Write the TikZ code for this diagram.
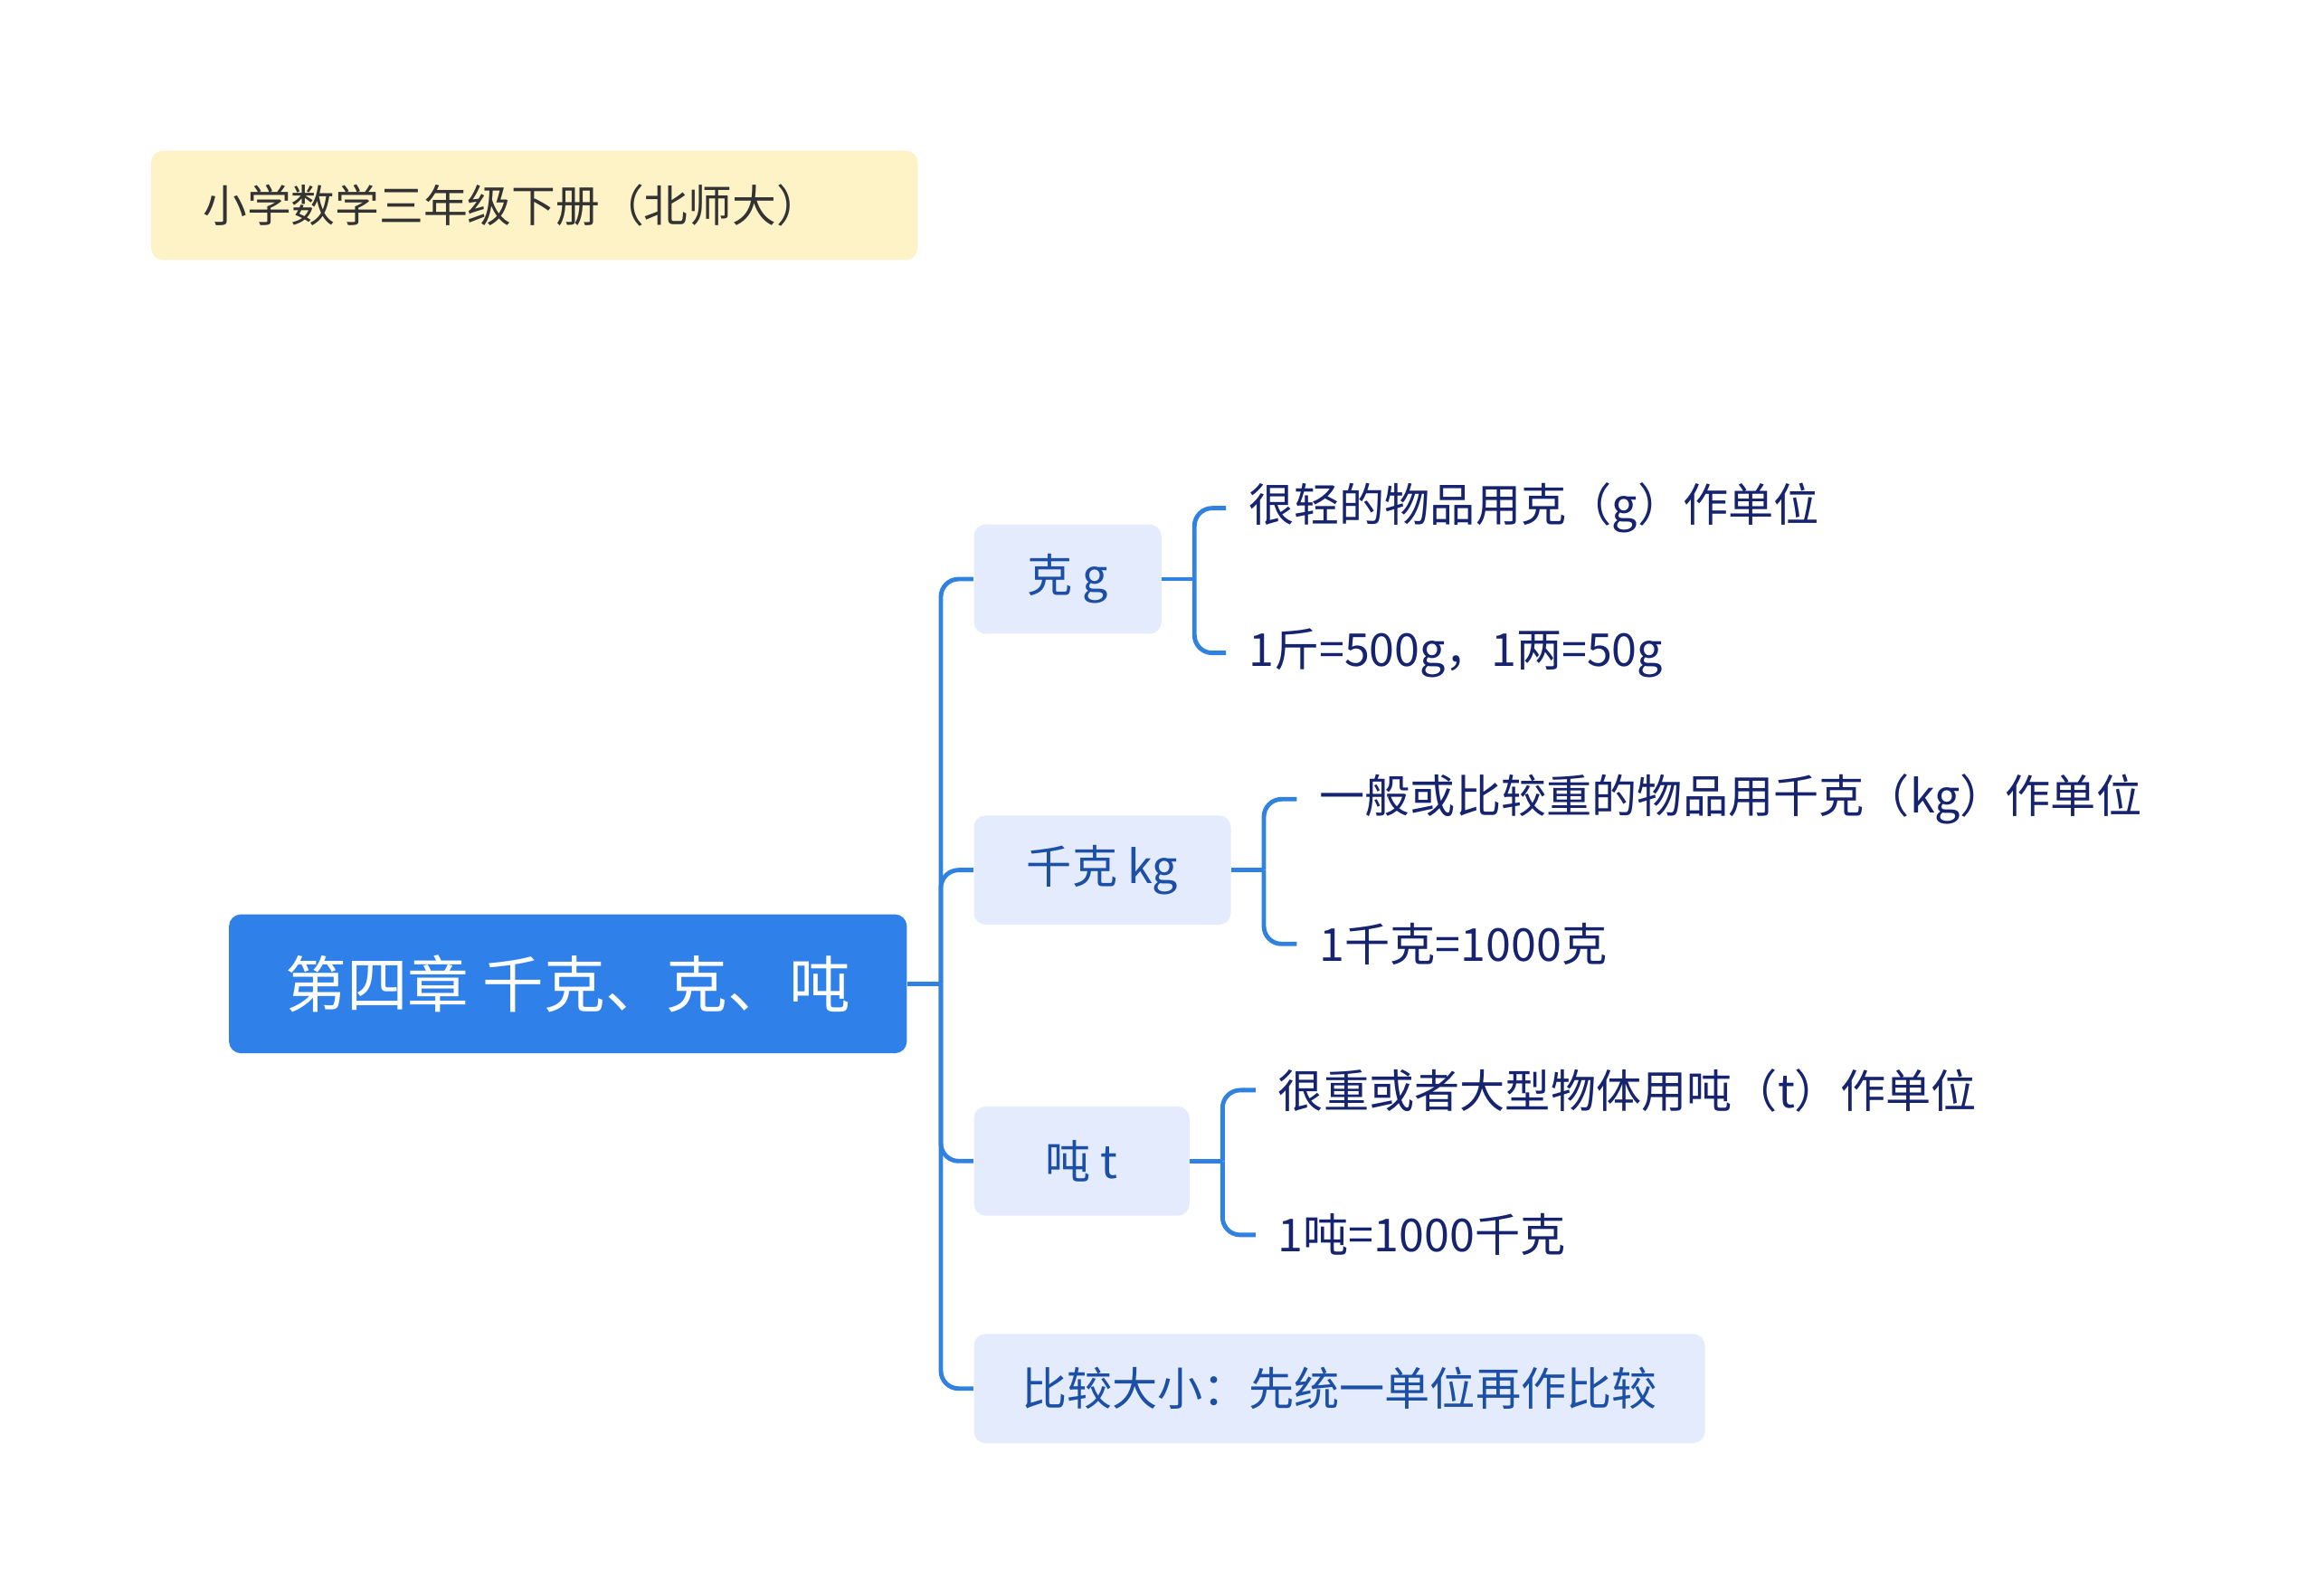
\documentclass[tikz,border=0pt]{standalone}
\usepackage{fontspec}
\setmainfont{Noto Sans CJK SC}
\usetikzlibrary{positioning}
\definecolor{mapblue}{HTML}{2F80E9}
\definecolor{mapline}{HTML}{3182E0}
\definecolor{mapsub}{HTML}{E3EBFC}
\definecolor{mapsubtext}{HTML}{1C4FA6}
\definecolor{mapleaf}{HTML}{16236E}
\definecolor{mapnote}{HTML}{FEF2C7}
\definecolor{mapgray}{HTML}{333333}
\tikzset{
  notebox/.style={fill=mapnote, text=mapgray, rounded corners=0.16cm, anchor=west,
    minimum height=1.48cm, inner xsep=0.7cm, text width=8.98cm, align=left,
    font=\fontsize{17pt}{20pt}\selectfont},
  rootbox/.style={fill=mapblue, text=white, rounded corners=0.16cm,
    minimum height=1.88cm, minimum width=9.18cm,
    font=\fontsize{23.6pt}{27pt}\selectfont},
  subbox/.style={fill=mapsub, text=mapsubtext, rounded corners=0.16cm, anchor=west,
    minimum height=1.48cm, font=\fontsize{17.5pt}{20pt}\selectfont},
  leaftext/.style={anchor=west, inner xsep=0.3cm, inner ysep=0pt, text=mapleaf,
    font=\fontsize{17.5pt}{20pt}\selectfont},
  link/.style={draw=mapline, line width=1.7pt, rounded corners=0.24cm},
}
\begin{document}
\begin{tikzpicture}[x=0.02cm, y=-0.02cm]
  \useasboundingbox (0,0) rectangle (1568,1080);
  \node[notebox] (note) at (102,139) {小学数学三年级下册（北师大）};
  \node[rootbox] (root) at (384.5,666) {第四章 千克、克、吨};

  \node[subbox, minimum width=2.54cm] (gram) at (659,392) {克 g};
  \node[subbox, minimum width=3.48cm] (kilo) at (659,589) {千克 kg};
  \node[subbox, minimum width=2.92cm] (ton) at (659,786) {吨 t};
  \node[subbox, minimum width=9.9cm] (compare) at (659,940) {比较大小：先统一单位再作比较};

  \node[leaftext] (gramA) at (830,344) {很轻的物品用克（g）作单位};
  \node[leaftext] (gramB) at (830,442) {1斤=500g，1两=50g};
  \node[leaftext] (kiloA) at (878,541) {一般或比较重的物品用千克（kg）作单位};
  \node[leaftext] (kiloB) at (878,639) {1千克=1000克};
  \node[leaftext] (tonA) at (850,738) {很重或者大型物体用吨（t）作单位};
  \node[leaftext] (tonB) at (850,836) {1吨=1000千克};

  \coordinate (hub) at (637,666);
  \draw[link] (root.east) -- (hub);
  \foreach \n in {gram,kilo,ton,compare}
    \draw[link] (hub) |- (\n.west);

  \foreach \n in {gram,kilo,ton} {
    \draw[link] (\n.east) -- ++(22,0) coordinate (\n fork);
    \draw[link] (\n fork) |- (\n A.west);
    \draw[link] (\n fork) |- (\n B.west);
  }
\end{tikzpicture}
\end{document}
